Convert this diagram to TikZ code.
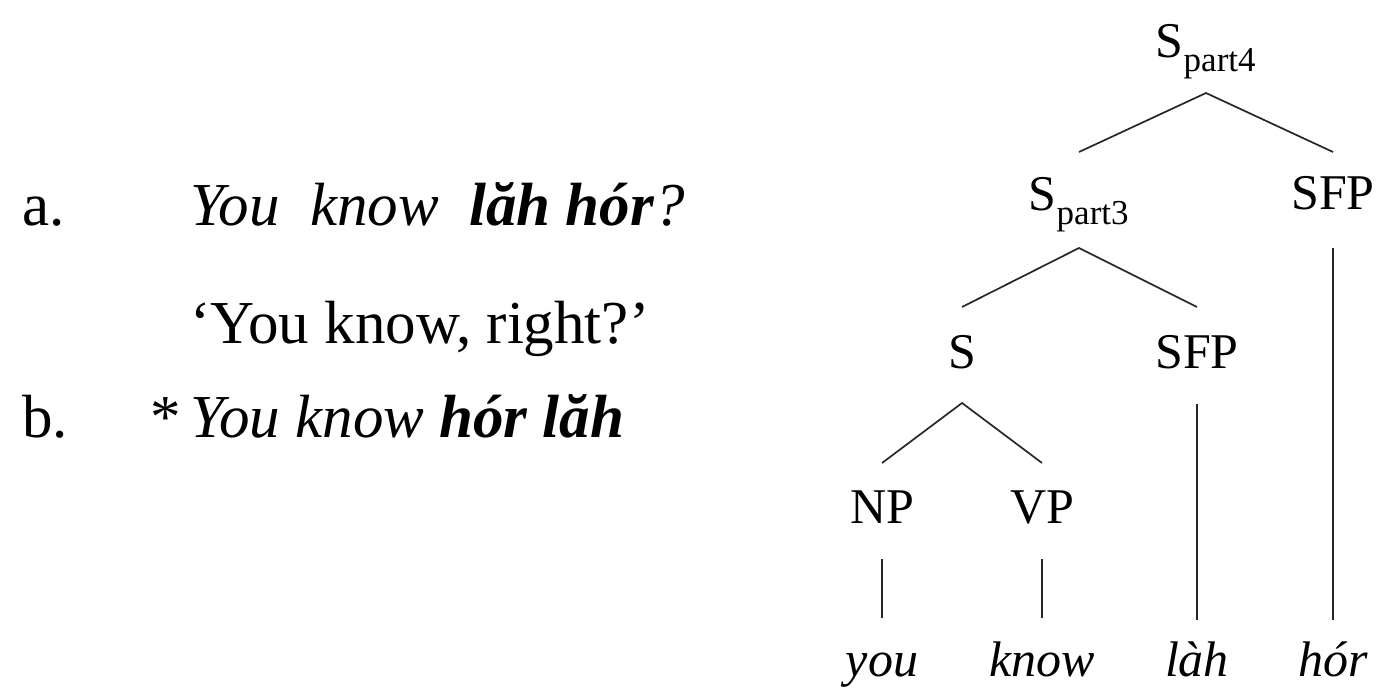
\documentclass[tikz,border=0pt]{standalone}
\usepackage{fontspec}
\setmainfont{Liberation Serif}
\begin{document}
\begin{tikzpicture}[x=1pt,y=-1pt,
  txt/.style={inner sep=0pt, anchor=base, font=\fontsize{50}{60}\selectfont},
  lefttxt/.style={inner sep=0pt, anchor=base west, font=\fontsize{61}{72}\selectfont},
  branch/.style={line width=1.7pt, black!85},
]
\useasboundingbox (0,0) rectangle (1378,688);

% examples on the left
\node[lefttxt] (la) at (22,225) {a.};
\node[lefttxt] (ex1) at (190,225) {\textit{You\ \ know\ \ \textbf{lăh hór}?}};
\node[lefttxt] (gl1) at (190,343) {‘You know, right?’};
\node[lefttxt] (lb) at (22,437) {b.};
\node[lefttxt] (ex2) at (150,437) {*\,\textit{You know \textbf{hór lăh}}};

% tree labels
\node[txt] (sp4) at (1206,57) {S\textsubscript{part4}};
\node[txt] (sp3) at (1079,210) {S\textsubscript{part3}};
\node[txt] (sfp1) at (1333,209) {SFP};
\node[txt] (s) at (962,368) {S};
\node[txt] (sfp2) at (1197,368) {SFP};
\node[txt] (np) at (882,523) {NP};
\node[txt] (vp) at (1042,523) {VP};
\node[txt] (w1) at (882,676) {\textit{you}};
\node[txt] (w2) at (1042,676) {\textit{know}};
\node[txt] (w3) at (1197,676) {\textit{làh}};
\node[txt] (w4) at (1333,676) {\textit{hór}};

% branches
\draw[branch] ([yshift=58pt]sp3.base) -- ([yshift=-36pt]sp4.base) -- ([yshift=57pt]sfp1.base);
\draw[branch] ([yshift=61pt]s.base) -- ([yshift=-38pt]sp3.base) -- ([yshift=61pt]sfp2.base);
\draw[branch] ([yshift=60pt]np.base) -- ([yshift=-35pt]s.base) -- ([yshift=60pt]vp.base);
\draw[branch] ([yshift=-39pt]sfp1.base) -- ([yshift=56pt]w4.base);
\draw[branch] ([yshift=-36pt]sfp2.base) -- ([yshift=56pt]w3.base);
\draw[branch] ([yshift=-36pt]np.base) -- ([yshift=58pt]w1.base);
\draw[branch] ([yshift=-36pt]vp.base) -- ([yshift=58pt]w2.base);
\end{tikzpicture}
\end{document}
